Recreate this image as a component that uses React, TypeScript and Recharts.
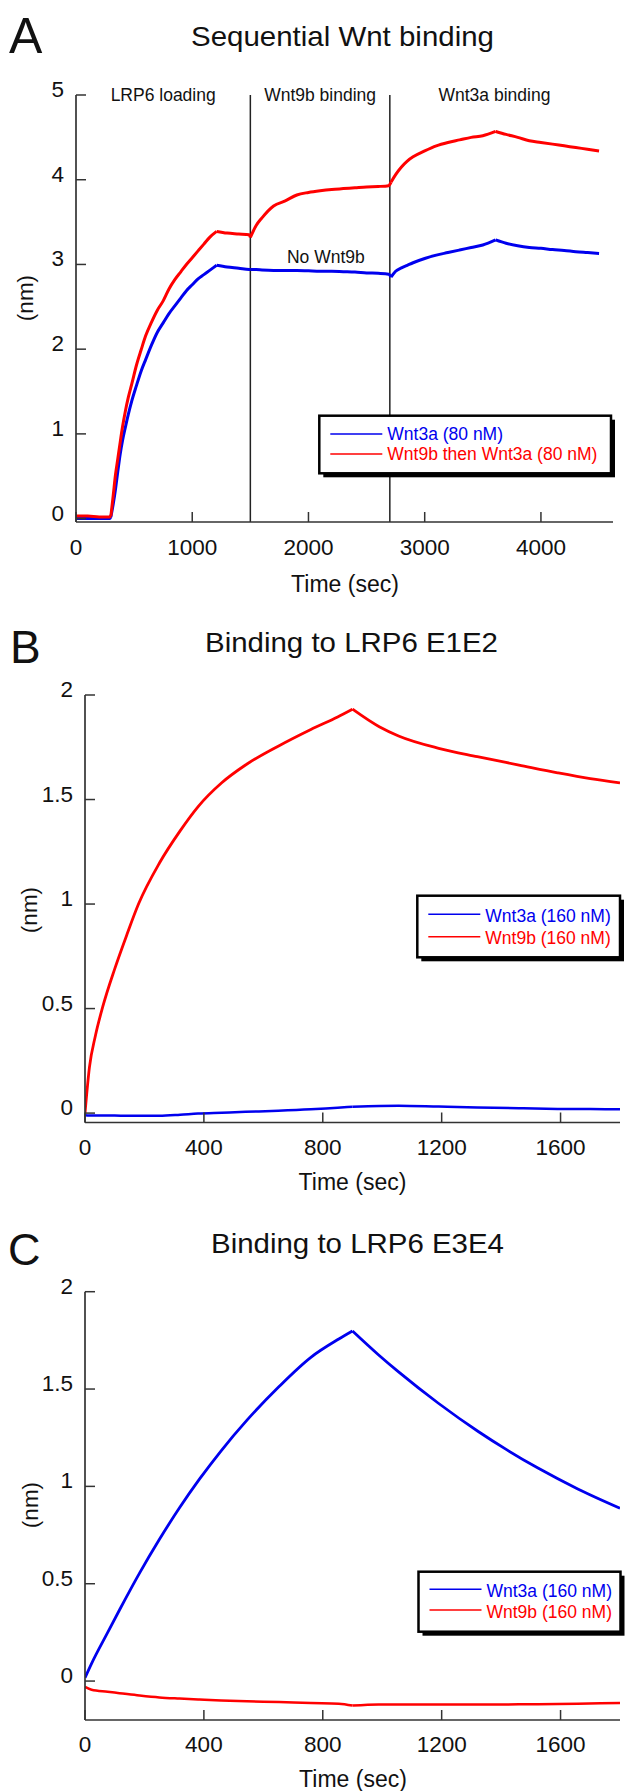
import React from 'react';
import { LineChart, Line, XAxis, YAxis, ReferenceLine, ReferenceArea, ReferenceDot } from 'recharts';

const FONT = "'Liberation Sans', Arial, Helvetica, sans-serif";
const BLUE = '#0000ee';
const RED = '#ff0000';
const AXIS = '#333333';
const INK = '#111111';

// ---------- Panel A: Sequential Wnt binding ----------
const A_TIME = [0, 100, 200, 290, 300, 320, 340, 360, 380, 400, 425, 450, 480, 520, 560, 600, 650, 700, 750, 800, 850, 900, 950, 1000, 1050, 1100, 1150, 1210, 1300, 1400, 1490, 1500, 1550, 1600, 1700, 1800, 1900, 2000, 2100, 2200, 2300, 2400, 2500, 2600, 2690, 2710, 2750, 2800, 2850, 2900, 3000, 3100, 3200, 3300, 3400, 3500, 3610, 3700, 3800, 3900, 4000, 4100, 4200, 4300, 4400, 4500];
const A_WNT3A = [0, 0, 0, 0, 0.02, 0.17, 0.35, 0.56, 0.76, 0.92, 1.08, 1.23, 1.39, 1.57, 1.74, 1.88, 2.05, 2.2, 2.31, 2.42, 2.51, 2.6, 2.69, 2.76, 2.83, 2.88, 2.93, 2.99, 2.97, 2.955, 2.94, 2.94, 2.94, 2.935, 2.93, 2.93, 2.93, 2.925, 2.92, 2.92, 2.915, 2.91, 2.9, 2.895, 2.885, 2.85, 2.92, 2.96, 2.99, 3.02, 3.07, 3.11, 3.14, 3.17, 3.2, 3.23, 3.29, 3.25, 3.22, 3.2, 3.19, 3.175, 3.165, 3.15, 3.14, 3.13];
const A_WNT9B_THEN_WNT3A = [0.03, 0.03, 0.02, 0.02, 0.03, 0.27, 0.52, 0.71, 0.9, 1.08, 1.27, 1.43, 1.59, 1.81, 1.99, 2.16, 2.32, 2.46, 2.57, 2.71, 2.82, 2.91, 3.0, 3.08, 3.16, 3.24, 3.32, 3.39, 3.37, 3.36, 3.35, 3.32, 3.46, 3.55, 3.69, 3.75, 3.82, 3.85, 3.87, 3.885, 3.895, 3.905, 3.915, 3.92, 3.93, 3.97, 4.06, 4.15, 4.22, 4.27, 4.34, 4.4, 4.44, 4.47, 4.5, 4.52, 4.57, 4.535, 4.5, 4.46, 4.44, 4.42, 4.4, 4.38, 4.36, 4.34];
const A_BREAKS = [300, 1210, 1500, 2710, 3610];
const A_X_TICKS = [0, 1000, 2000, 3000, 4000];
const A_Y_TICKS = [0, 1, 2, 3, 4, 5];
const A_PHASE_NAMES = ['LRP6 loading', 'Wnt9b binding', 'Wnt3a binding'];
const A_PHASE_BOUNDS = [0, 1500, 2700, 4500];
const A_NOTE = { text: 'No Wnt9b', t: 2150, v: 3.02 };

// ---------- Panel B: Binding to LRP6 E1E2 ----------
const B_TIME = [0, 15, 35, 60, 100, 140, 180, 250, 320, 380, 460, 540, 650, 760, 850, 900, 990, 1055, 1190, 1320, 1460, 1590, 1700, 1800];
const B_WNT3A = [-0.01, -0.012, -0.012, -0.012, -0.012, -0.013, -0.013, -0.013, -0.008, -0.002, 0.002, 0.006, 0.011, 0.018, 0.026, 0.03, 0.034, 0.035, 0.031, 0.027, 0.023, 0.02, 0.019, 0.018];
const B_WNT9B = [0, 0.22, 0.37, 0.51, 0.69, 0.85, 1.0, 1.195, 1.35, 1.465, 1.58, 1.665, 1.755, 1.835, 1.895, 1.932, 1.848, 1.804, 1.745, 1.705, 1.665, 1.628, 1.6, 1.58];

// ---------- Panel C: Binding to LRP6 E3E4 ----------
const C_TIME = [0, 22, 76, 116, 183, 250, 318, 385, 458, 545, 653, 760, 854, 900, 988, 1055, 1189, 1323, 1417, 1524, 1658, 1800];
const C_WNT3A = [0.017, 0.09, 0.249, 0.365, 0.553, 0.727, 0.89, 1.037, 1.183, 1.34, 1.513, 1.663, 1.757, 1.798, 1.675, 1.588, 1.427, 1.282, 1.19, 1.094, 0.987, 0.888];
const C_WNT9B = [-0.03, -0.045, -0.055, -0.062, -0.074, -0.084, -0.09, -0.095, -0.1, -0.104, -0.108, -0.113, -0.116, -0.126, -0.12, -0.12, -0.12, -0.121, -0.12, -0.119, -0.116, -0.113];

const BC_BREAKS = [900];
const BC_X_TICKS = [0, 400, 800, 1200, 1600];
const BC_Y_TICKS = [0, 0.5, 1, 1.5, 2];

type Pt = { t: number; v: number };
const pts = (time: number[], vals: number[]): Pt[] => time.map((t, i) => ({ t, v: vals[i] }));
// split a trace into association/dissociation segments sharing the break point
const segments = (data: Pt[], breaks: number[]): Pt[][] => {
  const out: Pt[][] = [];
  let cur: Pt[] = [];
  data.forEach((p) => {
    cur.push(p);
    if (breaks.includes(p.t)) {
      out.push(cur);
      cur = [p];
    }
  });
  if (cur.length > 1) out.push(cur);
  return out;
};

const XTick = (props: any) => {
  const { x, y, payload, labelDy } = props;
  return (
    <g>
      <line x1={x} x2={x} y1={y} y2={y - 10} stroke={AXIS} strokeWidth={1.5} />
      <text x={x} y={y + labelDy} textAnchor="middle" fontSize={22.5} fontFamily={FONT} fill={INK}>
        {payload.value}
      </text>
    </g>
  );
};

const YTick = (props: any) => {
  const { x, y, payload } = props;
  return (
    <g>
      <line x1={x} x2={x + 10} y1={y} y2={y} stroke={AXIS} strokeWidth={1.5} />
      <text x={x - 12} y={y + 2} textAnchor="end" fontSize={22.5} fontFamily={FONT} fill={INK}>
        {payload.value}
      </text>
    </g>
  );
};

const PhaseLabel = (props: any) => {
  const { viewBox, text } = props;
  if (!viewBox) return null;
  return (
    <text x={viewBox.x + viewBox.width / 2} y={viewBox.y + 6} textAnchor="middle" fontSize={17.5} fontFamily={FONT} fill={INK}>
      {text}
    </text>
  );
};

const NoteLabel = (props: any) => {
  const { viewBox, text } = props;
  if (!viewBox) return null;
  return (
    <text x={viewBox.x + viewBox.width / 2} y={viewBox.y + viewBox.height / 2} textAnchor="middle" fontSize={17.5} fontFamily={FONT} fill={INK}>
      {text}
    </text>
  );
};

const axisLine = { stroke: AXIS, strokeWidth: 1.7 };

const LegendBox = ({ x, y, w, h, rows }: any) => (
  <g>
    <rect x={x + 4} y={y + 4} width={w} height={h} fill="#000" />
    <rect x={x} y={y} width={w} height={h} fill="#fff" stroke="#000" strokeWidth={2.5} />
    {rows.map((r: any, i: number) => (
      <g key={i}>
        <line x1={x + 11} x2={x + 63} y1={r.ly} y2={r.ly} stroke={r.color} strokeWidth={1.6} />
        <text x={x + 68} y={r.by} fontSize={17.5} fontFamily={FONT} fill={r.color}>
          {r.text}
        </text>
      </g>
    ))}
  </g>
);

const traceLines = (name: string, data: Pt[], breaks: number[], color: string, width: number) =>
  segments(data, breaks).map((seg, i) => (
    <Line
      key={`${name}-${i}`}
      data={seg}
      dataKey="v"
      type="monotone"
      stroke={color}
      strokeWidth={width}
      dot={false}
      activeDot={false}
      isAnimationActive={false}
    />
  ));

export default function App() {
  const aBlue = pts(A_TIME, A_WNT3A);
  const aRed = pts(A_TIME, A_WNT9B_THEN_WNT3A);
  const bBlue = pts(B_TIME, B_WNT3A);
  const bRed = pts(B_TIME, B_WNT9B);
  const cBlue = pts(C_TIME, C_WNT3A);
  const cRed = pts(C_TIME, C_WNT9B);

  return (
    <div style={{ position: 'absolute', left: 0, top: 0, width: 625, height: 1791, background: '#fff', fontFamily: FONT, overflow: 'hidden' }}>
      {/* Panel A */}
      <div style={{ position: 'absolute', left: 0, top: 0 }}>
        <LineChart width={625} height={600} margin={{ top: 95, right: 12, left: 0, bottom: 48 }}>
          <XAxis type="number" dataKey="t" domain={[0, 4620]} ticks={A_X_TICKS} interval={0} tickSize={0} tickMargin={0} tickLine={false} axisLine={axisLine} height={30} tick={<XTick labelDy={33} />} allowDataOverflow />
          <YAxis type="number" dataKey="v" domain={[-0.04, 5]} ticks={A_Y_TICKS} interval={0} tickSize={0} tickMargin={0} tickLine={false} axisLine={axisLine} width={76} tick={<YTick />} allowDataOverflow />
          {A_PHASE_NAMES.map((name, i) => (
            <ReferenceArea key={name} x1={A_PHASE_BOUNDS[i]} x2={A_PHASE_BOUNDS[i + 1]} fillOpacity={0} strokeOpacity={0} label={<PhaseLabel text={name} />} />
          ))}
          {A_PHASE_BOUNDS.slice(1, 3).map((b) => (
            <ReferenceLine key={b} x={b} stroke="#222" strokeWidth={1.5} />
          ))}
          <ReferenceDot x={A_NOTE.t} y={A_NOTE.v} r={0} fill="none" stroke="none" label={<NoteLabel text={A_NOTE.text} />} />
          {traceLines('a-blue', aBlue, A_BREAKS, BLUE, 3)}
          {traceLines('a-red', aRed, A_BREAKS, RED, 3)}
        </LineChart>
      </div>

      {/* Panel B */}
      <div style={{ position: 'absolute', left: 0, top: 620 }}>
        <LineChart width={625} height={560} margin={{ top: 75, right: 5, left: 0, bottom: 27.5 }}>
          <XAxis type="number" dataKey="t" domain={[0, 1800]} ticks={BC_X_TICKS} interval={0} tickSize={0} tickMargin={0} tickLine={false} axisLine={axisLine} height={30} tick={<XTick labelDy={32} />} allowDataOverflow />
          <YAxis type="number" dataKey="v" domain={[-0.045, 2]} ticks={BC_Y_TICKS} interval={0} tickSize={0} tickMargin={0} tickLine={false} axisLine={axisLine} width={85} tick={<YTick />} allowDataOverflow />
          {traceLines('b-blue', bBlue, BC_BREAKS, BLUE, 2.5)}
          {traceLines('b-red', bRed, BC_BREAKS, RED, 2.8)}
        </LineChart>
      </div>

      {/* Panel C */}
      <div style={{ position: 'absolute', left: 0, top: 1200 }}>
        <LineChart width={625} height={591} margin={{ top: 91.7, right: 5, left: 0, bottom: 41 }}>
          <XAxis type="number" dataKey="t" domain={[0, 1800]} ticks={BC_X_TICKS} interval={0} tickSize={0} tickMargin={0} tickLine={false} axisLine={axisLine} height={30} tick={<XTick labelDy={32} />} allowDataOverflow />
          <YAxis type="number" dataKey="v" domain={[-0.2, 2]} ticks={BC_Y_TICKS} interval={0} tickSize={0} tickMargin={0} tickLine={false} axisLine={axisLine} width={85} tick={<YTick />} allowDataOverflow />
          {traceLines('c-blue', cBlue, BC_BREAKS, BLUE, 2.8)}
          {traceLines('c-red', cRed, BC_BREAKS, RED, 2.5)}
        </LineChart>
      </div>

      {/* Text overlay: panel letters, titles, axis titles, legends */}
      <svg width={625} height={1791} style={{ position: 'absolute', left: 0, top: 0, pointerEvents: 'none' }} fontFamily={FONT}>
        <text x={9} y={53} fontSize={50} fill={INK}>A</text>
        <text x={191} y={46} fontSize={28} fill={INK} textLength={303} lengthAdjust="spacingAndGlyphs">Sequential Wnt binding</text>
        <text transform="translate(25,298) rotate(-90)" textAnchor="middle" dominantBaseline="central" fontSize={22.5} fill={INK}>(nm)</text>
        <text x={345} y={592} textAnchor="middle" fontSize={23} fill={INK}>Time (sec)</text>
        <LegendBox x={319.3} y={415.7} w={291.7} h={57.6} rows={[
          { text: 'Wnt3a (80 nM)', color: BLUE, ly: 434, by: 440 },
          { text: 'Wnt9b then Wnt3a (80 nM)', color: RED, ly: 454, by: 460 },
        ]} />

        <text x={10} y={663} fontSize={46} fill={INK}>B</text>
        <text x={205} y={652} fontSize={28} fill={INK} textLength={293} lengthAdjust="spacingAndGlyphs">Binding to LRP6 E1E2</text>
        <text transform="translate(29,910) rotate(-90)" textAnchor="middle" dominantBaseline="central" fontSize={22.5} fill={INK}>(nm)</text>
        <text x={352.5} y={1190} textAnchor="middle" fontSize={23} fill={INK}>Time (sec)</text>
        <LegendBox x={417.3} y={895.7} w={202.7} h={61.6} rows={[
          { text: 'Wnt3a (160 nM)', color: BLUE, ly: 914.3, by: 921.5 },
          { text: 'Wnt9b (160 nM)', color: RED, ly: 936.7, by: 944 },
        ]} />

        <text x={8} y={1265} fontSize={45} fill={INK}>C</text>
        <text x={211} y={1253} fontSize={28} fill={INK} textLength={293} lengthAdjust="spacingAndGlyphs">Binding to LRP6 E3E4</text>
        <text transform="translate(30,1505) rotate(-90)" textAnchor="middle" dominantBaseline="central" fontSize={22.5} fill={INK}>(nm)</text>
        <text x={353} y={1787} textAnchor="middle" fontSize={23} fill={INK}>Time (sec)</text>
        <LegendBox x={418.5} y={1571.7} w={202} h={60} rows={[
          { text: 'Wnt3a (160 nM)', color: BLUE, ly: 1589.3, by: 1596.5 },
          { text: 'Wnt9b (160 nM)', color: RED, ly: 1610, by: 1618 },
        ]} />
      </svg>
    </div>
  );
}
